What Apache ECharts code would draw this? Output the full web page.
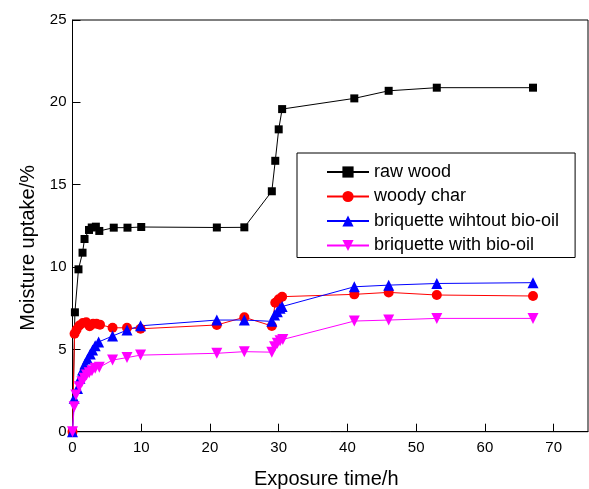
<!DOCTYPE html>
<html>
<head>
<meta charset="utf-8">
<script src="https://cdn.jsdelivr.net/npm/echarts@6/dist/echarts.min.js"></script>
<style>html,body{margin:0;padding:0;background:#fff;}#c{width:589px;height:489px;}</style>
</head>
<body>
<div id="c"></div>
<script>
// ---- data ----
const rawWoodTime = [0, 0.35, 0.87, 1.46, 1.75, 2.4, 2.8, 3.4, 3.9, 6, 8, 10, 21, 25, 29, 29.5, 30, 30.5, 41, 46, 53, 67];
const rawWood     = [0, 7.25, 9.86, 10.87, 11.7, 12.25, 12.4, 12.45, 12.19, 12.39, 12.39, 12.43, 12.4, 12.41, 14.6, 16.45, 18.36, 19.59, 20.24, 20.7, 20.89, 20.89];

const charTime  = [0, 0.3, 0.6, 1.0, 1.5, 2.0, 2.5, 3.0, 3.5, 4.0, 5.83, 7.93, 9.9, 21, 25, 29, 29.5, 30, 30.5, 41, 46, 53, 67];
const woodyChar = [0, 5.95, 6.2, 6.45, 6.6, 6.65, 6.4, 6.55, 6.55, 6.5, 6.31, 6.31, 6.25, 6.48, 6.95, 6.42, 7.83, 8.04, 8.2, 8.34, 8.46, 8.3, 8.24];

const briqNoOilTime = [0, 0.25, 0.73, 1.08, 1.46, 1.8, 2.19, 2.58, 2.92, 3.3, 3.8, 5.83, 7.93, 9.9, 21, 25, 29, 29.4, 29.8, 30.2, 30.5, 41, 46, 53, 67];
const briqNoOil     = [0, 2.03, 2.63, 3.24, 3.75, 4.11, 4.41, 4.72, 4.96, 5.22, 5.45, 5.81, 6.17, 6.43, 6.78, 6.78, 6.7, 7.08, 7.29, 7.5, 7.6, 8.8, 8.9, 9.0, 9.05];

const briqOilTime = [0, 0.25, 0.5, 0.98, 1.37, 1.7, 2.04, 2.43, 2.83, 3.3, 3.9, 5.83, 7.93, 9.9, 21, 25, 29, 29.4, 29.8, 30.2, 30.6, 41, 46, 53, 67];
const briqOil     = [0, 1.52, 2.23, 2.73, 3.04, 3.24, 3.44, 3.58, 3.7, 3.85, 3.91, 4.35, 4.5, 4.65, 4.76, 4.86, 4.83, 5.16, 5.37, 5.52, 5.6, 6.72, 6.78, 6.88, 6.88];

const seriesNames = ['raw wood', 'woody char', 'briquette wihtout bio-oil', 'briquette with bio-oil'];
const xTicks = { min: 0, max: 75, interval: 10 };
const yTicks = { min: 0, max: 25, interval: 5 };

function pairs(xs, ys) { return xs.map((x, i) => [x, ys[i]]); }

const FONT = "'Liberation Sans', Arial, sans-serif";
const chart = echarts.init(document.getElementById('c'), null, { renderer: 'canvas' });

function mk(name, xs, ys, color, symbol, size, rotate) {
  return {
    name: name, type: 'line', data: pairs(xs, ys),
    symbol: symbol, symbolSize: size, symbolRotate: rotate || 0,
    showAllSymbol: true, animation: false,
    lineStyle: { color: color, width: 1 },
    itemStyle: { color: color, borderWidth: 0 }
  };
}

chart.setOption({
  backgroundColor: '#fff',
  animation: false,
  textStyle: { fontFamily: FONT, color: '#000' },
  grid: { left: 72.5, right: 1, top: 20, bottom: 57.3, show: true, borderColor: '#000', borderWidth: 1, containLabel: false, outerBoundsMode: 'none' },
  legend: {
    left: 297, top: 153, orient: 'vertical',
    padding: [9, 16, 2, 29], itemGap: 4.5, itemWidth: 42, itemHeight: 14,
    borderColor: '#000', borderWidth: 1, borderRadius: 0,
    textStyle: { fontFamily: FONT, fontSize: 18, color: '#000', height: 20, lineHeight: 20 },
    data: seriesNames
  },
  xAxis: {
    type: 'value', min: xTicks.min, max: xTicks.max, interval: xTicks.interval,
    name: 'Exposure time/h', nameLocation: 'middle', nameGap: 38,
    nameTextStyle: { fontFamily: FONT, fontSize: 20, color: '#000', padding: [0, 8, 0, 0] },
    axisLine: { lineStyle: { color: '#000', width: 1 } },
    axisTick: { inside: true, length: 8, lineStyle: { color: '#000' } },
    axisLabel: { fontFamily: FONT, fontSize: 15, color: '#000', margin: 9, showMaxLabel: false },
    splitLine: { show: false }
  },
  yAxis: {
    type: 'value', min: yTicks.min, max: yTicks.max, interval: yTicks.interval,
    name: 'Moisture uptake/%', nameLocation: 'middle', nameGap: 34,
    nameTextStyle: { fontFamily: FONT, fontSize: 20, color: '#000', padding: [0, 44, 0, 0] },
    axisLine: { lineStyle: { color: '#000', width: 1 } },
    axisTick: { inside: true, length: 8, lineStyle: { color: '#000' } },
    axisLabel: { fontFamily: FONT, fontSize: 15, color: '#000', margin: 6 },
    splitLine: { show: false }
  },
  series: [
    mk(seriesNames[0], rawWoodTime, rawWood, '#000000', 'rect', 8),
    mk(seriesNames[1], charTime, woodyChar, '#ff0000', 'circle', 10),
    mk(seriesNames[2], briqNoOilTime, briqNoOil, '#0000ff', 'triangle', 11),
    mk(seriesNames[3], briqOilTime, briqOil, '#ff00ff', 'triangle', 11, 180)
  ]
});
</script>
</body>
</html>
